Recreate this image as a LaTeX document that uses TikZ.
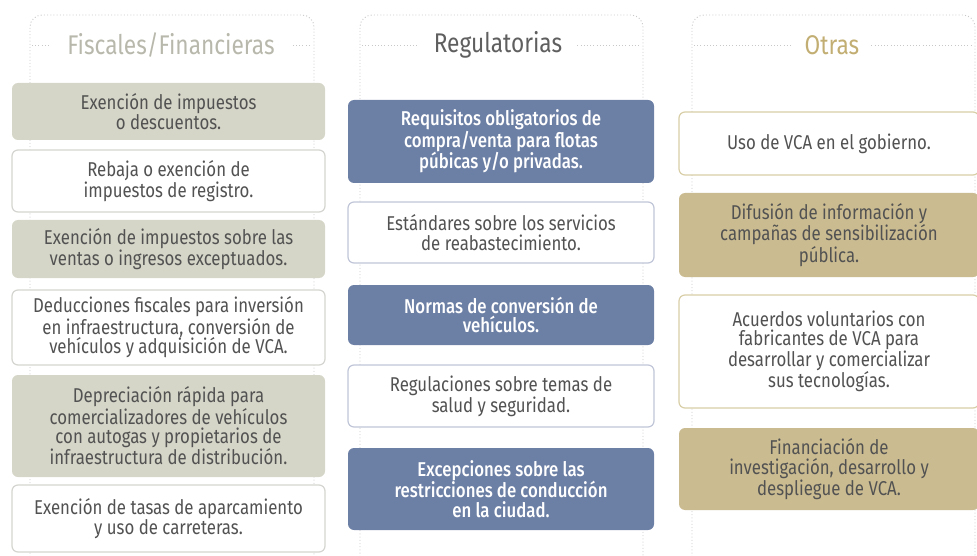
\documentclass[tikz,border=0pt]{standalone}
\usepackage{fontspec}
\setmainfont[FakeStretch=0.84]{Fira Sans}
\newfontfamily\medfont[FakeStretch=0.84]{Fira Sans Medium}
\usepackage{xcolor}
\usepackage{tikz}
\usetikzlibrary{positioning}
\definecolor{txtgray}{RGB}{82,82,82}
\definecolor{fisfill}{RGB}{213,213,200}
\definecolor{fishead}{RGB}{184,184,172}
\definecolor{fisline}{RGB}{212,212,208}
\definecolor{regfill}{RGB}{108,127,165}
\definecolor{reghead}{RGB}{95,95,95}
\definecolor{regline}{RGB}{192,198,216}
\definecolor{otrfill}{RGB}{202,187,145}
\definecolor{otrhead}{RGB}{194,174,114}
\definecolor{otrline}{RGB}{216,206,168}
\definecolor{panelline}{RGB}{200,200,200}

\begin{document}
\begin{tikzpicture}[x=1pt, y=-1pt,
  every node/.style={font=\fontsize{20}{19.5}\selectfont, text=txtgray, align=center, inner sep=0pt},
  panel/.style={panelline, line width=0.9pt, dash pattern=on 1pt off 2.2pt, rounded corners=12pt},
  headline/.style={panelline, line width=0.9pt, dash pattern=on 1pt off 2.2pt},
  head/.style={font=\fontsize{27}{29}\selectfont},
  box/.style={rounded corners=6pt, line width=1.2pt},
  fisbox/.style={box, minimum width=313pt, fill=fisfill},
  fisopen/.style={box, minimum width=313pt, draw=fisline, fill=white},
  regbox/.style={box, minimum width=306pt, fill=regfill, text=white, font=\medfont\fontsize{20}{19.5}\selectfont},
  regopen/.style={box, minimum width=306pt, draw=regline, fill=white},
  otrbox/.style={box, minimum width=300pt, fill=otrfill},
  otropen/.style={box, minimum width=300pt, draw=otrline, fill=white}]
  \useasboundingbox (0,0) rectangle (977,556);

  \draw[panel] (30,560) -- (30,15) -- (314,15) -- (314,560);
  \draw[panel] (360,560) -- (360,15) -- (643,15) -- (643,560);
  \draw[panel] (692,560) -- (692,15) -- (975,15) -- (975,560);

  \node[head, text=fishead] (hfis) at (171,45) {Fiscales/Financieras};
  \node[head, text=reghead] (hreg) at (498,45) {Regulatorias};
  \node[head, text=otrhead] (hotr) at (832,45) {Otras};
  \coordinate (fisl) at (32,45);   \coordinate (fisr) at (312,45);
  \coordinate (regl) at (362,45);  \coordinate (regr) at (641,45);
  \coordinate (otrl) at (694,45);  \coordinate (otrr) at (973,45);
  \draw[headline] (fisl) -- ([xshift=-18pt]hfis.west);
  \draw[headline] ([xshift=18pt]hfis.east) -- (fisr);
  \draw[headline] (regl) -- ([xshift=-15pt]hreg.west);
  \draw[headline] ([xshift=15pt]hreg.east) -- (regr);
  \draw[headline] (otrl) -- ([xshift=-12pt]hotr.west);
  \draw[headline] ([xshift=12pt]hotr.east) -- (otrr);

  \node[fisbox, minimum height=57pt] (fis1) at (168.5,111.5) {Exención de impuestos\\o descuentos.};
  \node[fisopen, minimum height=62pt] (fis2) at (168.5,181) {Rebaja o exención de\\impuestos de registro.};
  \node[fisbox, minimum height=58pt] (fis3) at (168.5,249) {Exención de impuestos sobre las\\ventas o ingresos exceptuados.};
  \node[fisopen, minimum height=75pt] (fis4) at (168.5,327.5) {Deducciones fiscales para inversión\\en infraestructura, conversión de\\vehículos y adquisición de VCA.};
  \node[fisbox, minimum height=102pt] (fis5) at (168.5,426) {Depreciación rápida para\\comercializadores de vehículos\\con autogas y propietarios de\\infraestructura de distribución.};
  \node[fisopen, minimum height=67pt] (fis6) at (168.5,518.5) {Exención de tasas de aparcamiento\\y uso de carreteras.};

  \node[regbox, minimum height=83pt] (reg1) at (501,141.5) {Requisitos obligatorios de\\compra/venta para flotas\\púbicas y/o privadas.};
  \node[regopen, minimum height=61pt] (reg2) at (501,232.5) {Estándares sobre los servicios\\de reabastecimiento.};
  \node[regbox, minimum height=60pt] (reg3) at (501,315) {Normas de conversión de\\vehículos.};
  \node[regopen, minimum height=62pt] (reg4) at (501,396) {Regulaciones sobre temas de\\salud y seguridad.};
  \node[regbox, minimum height=82pt] (reg5) at (501,489) {Excepciones sobre las\\restricciones de conducción\\en la ciudad.};

  \node[otropen, minimum height=63pt] (otr1) at (829,143.5) {Uso de VCA en el gobierno.};
  \node[otrbox, minimum height=84pt] (otr2) at (829,235) {Difusión de información y\\campañas de sensibilización\\pública.};
  \node[otropen, minimum height=113pt] (otr3) at (829,351.5) {Acuerdos voluntarios con\\fabricantes de VCA para\\desarrollar y comercializar\\sus tecnologías.};
  \node[otrbox, minimum height=82pt] (otr4) at (829,469) {Financiación de\\investigación, desarrollo y\\despliegue de VCA.};
\end{tikzpicture}
\end{document}
